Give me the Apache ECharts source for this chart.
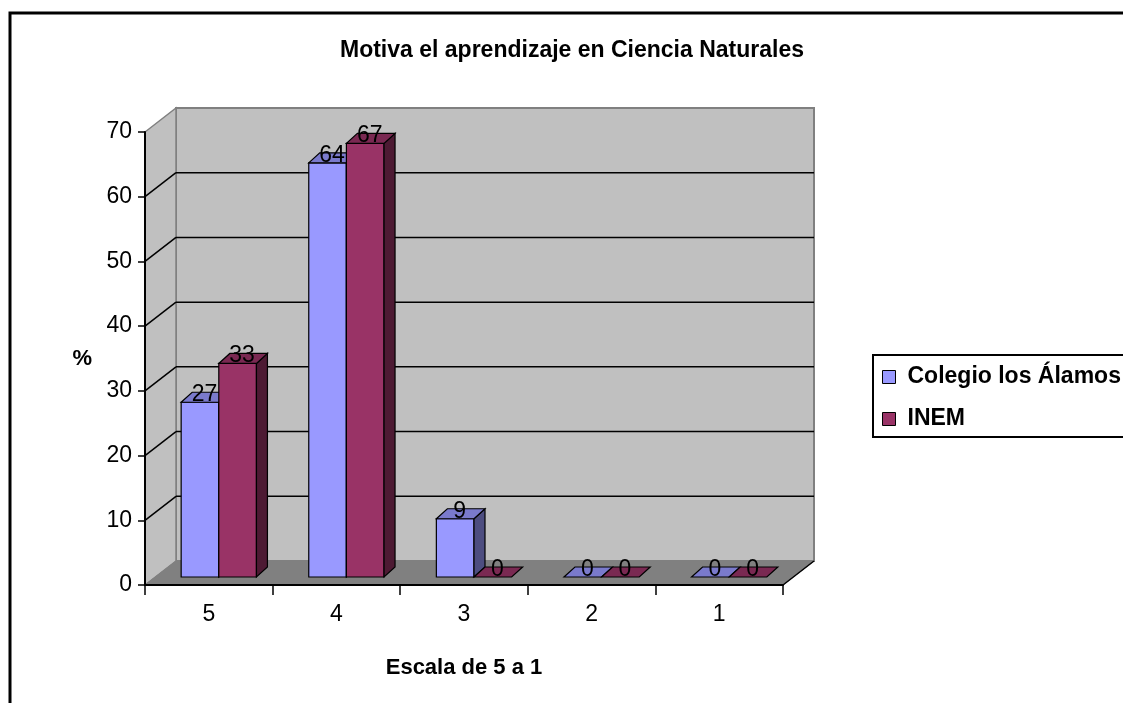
<!DOCTYPE html>
<html>
<head>
<meta charset="utf-8">
<script src="https://cdn.jsdelivr.net/npm/echarts@6/dist/echarts.min.js"></script>
<style>html,body{margin:0;padding:0;background:#fff}#c{width:1123px;height:703px}</style>
</head>
<body>
<div id="c"></div>
<script>
const titleText = 'Motiva el aprendizaje en Ciencia Naturales';
const categories = ['5', '4', '3', '2', '1'];
const seriesNames = ['Colegio los Álamos', 'INEM'];
const colegioValues = [27, 64, 9, 0, 0];
const inemValues = [33, 67, 0, 0, 0];
const yTicks = [0, 10, 20, 30, 40, 50, 60, 70];
const xAxisName = 'Escala de 5 a 1';
const yAxisName = '%';

const FONT = '"Liberation Sans", Arial, sans-serif';
const DX = 31, DY = -24;      // wall depth offset
const FX = 10, FY = -8;       // bar front-face offset
const BX = 11, BY = -10;      // bar depth
const palette = [
  { front: '#9999ff', top: '#7a7acc', side: '#4d4d80' },
  { front: '#993366', top: '#7a2952', side: '#4d1a33' }
];

const chart = echarts.init(document.getElementById('c'), null, { renderer: 'canvas' });

function renderWalls(params, api) {
  const cs = params.coordSys;
  const L = cs.x, T = cs.y, R = cs.x + cs.width, B = cs.y + cs.height;
  const ch = [];
  ch.push({ type: 'polygon', shape: { points: [[L + DX, T + DY], [R + DX, T + DY], [R + DX, B + DY], [L + DX, B + DY]] },
    style: { fill: '#c0c0c0', stroke: '#808080', lineWidth: 2 } });
  ch.push({ type: 'polygon', shape: { points: [[L, B], [L, T], [L + DX, T + DY], [L + DX, B + DY]] },
    style: { fill: '#c0c0c0', stroke: '#808080', lineWidth: 1.5 } });
  ch.push({ type: 'polygon', shape: { points: [[L, B], [R, B], [R + DX, B + DY], [L + DX, B + DY]] },
    style: { fill: '#808080', stroke: '#808080', lineWidth: 1 } });
  ch.push({ type: 'line', shape: { x1: R, y1: B, x2: R + DX, y2: B + DY }, style: { stroke: '#000', lineWidth: 1.5 } });
  yTicks.forEach(v => {
    if (v <= 0 || v >= yTicks[yTicks.length - 1]) return;
    const y = api.coord([0, v])[1];
    ch.push({ type: 'line', shape: { x1: L, y1: y, x2: L + DX, y2: y + DY }, style: { stroke: '#000', lineWidth: 1.5 } });
    ch.push({ type: 'line', shape: { x1: L + DX, y1: y + DY, x2: R + DX, y2: y + DY }, style: { stroke: '#000', lineWidth: 1.5 } });
  });
  return { type: 'group', children: ch };
}

function makeBarRenderer(s) {
  return function (params, api) {
    const idx = api.value(0), val = api.value(1);
    const p0 = api.coord([idx, 0]);
    const p1 = api.coord([idx, val]);
    const band = api.size([1, 0])[0];
    const bw = band * 0.295;
    const x0 = p0[0] + FX + (s === 0 ? -bw : 0);
    const x1 = x0 + bw;
    const yb = p0[1] + FY;
    const yt = p1[1] + FY;
    const c = palette[s];
    const ch = [];
    if (yb - yt > 0.5) {
      ch.push({ type: 'polygon', shape: { points: [[x0, yt], [x1, yt], [x1, yb], [x0, yb]] },
        style: { fill: c.front, stroke: '#000', lineWidth: 1.2 } });
      ch.push({ type: 'polygon', shape: { points: [[x1, yt], [x1 + BX, yt + BY], [x1 + BX, yb + BY], [x1, yb]] },
        style: { fill: c.side, stroke: '#000', lineWidth: 1.2 } });
    }
    ch.push({ type: 'polygon', shape: { points: [[x0, yt], [x1, yt], [x1 + BX, yt + BY], [x0 + BX, yt + BY]] },
      style: { fill: c.top, stroke: '#000', lineWidth: 1.2 } });
    ch.push({ type: 'text', z2: 100, style: { text: String(val), x: (x0 + x1) / 2 + BX / 2 - 1, y: yt + 4,
      align: 'center', verticalAlign: 'bottom', font: '23px ' + FONT, fill: '#000' } });
    return { type: 'group', children: ch };
  };
}

const option = {
  animation: false,
  backgroundColor: '#fff',
  graphic: [
    { type: 'rect', z: -10, shape: { x: 10, y: 13, width: 1300, height: 900 }, style: { fill: 'none', stroke: '#000', lineWidth: 3 } },
    { type: 'text', style: { text: titleText, x: 572, y: 51, align: 'center', verticalAlign: 'middle', font: 'bold 23px ' + FONT, fill: '#000' } }
  ],
  grid: { left: 145, top: 132, width: 638, height: 453, containLabel: false },
  legend: {
    orient: 'vertical', left: 873, top: 355, icon: 'rect', itemWidth: 13, itemHeight: 13, itemGap: 18,
    padding: [10, 80, 6, 9], borderColor: '#000', borderWidth: 2, backgroundColor: '#fff',
    itemStyle: { borderColor: '#000', borderWidth: 1 },
    textStyle: { fontFamily: FONT, fontWeight: 'bold', fontSize: 23, lineHeight: 24, color: '#000', padding: [0, 0, 0, 7] },
    data: seriesNames
  },
  xAxis: {
    type: 'category', data: categories, z: 10,
    axisLine: { lineStyle: { color: '#000', width: 2 } },
    axisTick: { show: true, length: 10, lineStyle: { color: '#000', width: 1.5 } },
    axisLabel: { color: '#000', fontSize: 23, fontFamily: FONT, margin: 18 },
    splitLine: { show: false },
    name: xAxisName, nameLocation: 'middle', nameGap: 72,
    nameTextStyle: { color: '#000', fontSize: 22, fontWeight: 'bold', fontFamily: FONT }
  },
  yAxis: {
    type: 'value', min: 0, max: 70, interval: 10, z: 10,
    axisLine: { show: true, lineStyle: { color: '#000', width: 2 } },
    axisTick: { show: true, length: 7, lineStyle: { color: '#000', width: 1.5 } },
    axisLabel: { color: '#000', fontSize: 23, fontFamily: FONT, margin: 13 },
    splitLine: { show: false },
    name: yAxisName, nameLocation: 'middle', nameGap: 53, nameRotate: 0,
    nameTextStyle: { color: '#000', fontSize: 22, fontWeight: 'bold', fontFamily: FONT }
  },
  series: [
    { type: 'custom', name: '__walls', silent: true, z: 1, renderItem: renderWalls, data: [[0, 0]] },
    { type: 'custom', name: seriesNames[0], z: 2, itemStyle: { color: palette[0].front },
      renderItem: makeBarRenderer(0), data: colegioValues.map((v, i) => [i, v]) },
    { type: 'custom', name: seriesNames[1], z: 2, itemStyle: { color: palette[1].front },
      renderItem: makeBarRenderer(1), data: inemValues.map((v, i) => [i, v]) }
  ]
};
chart.setOption(option);
</script>
</body>
</html>
